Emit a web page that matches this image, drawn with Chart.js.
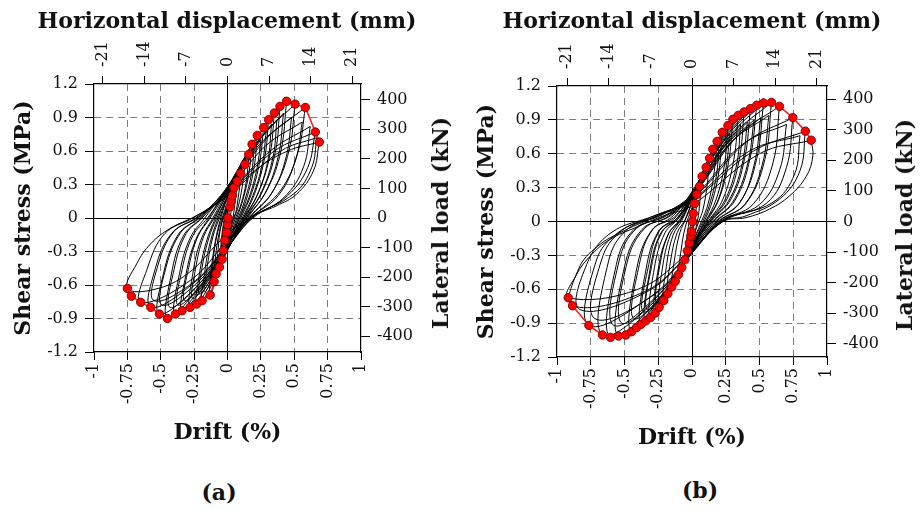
<!DOCTYPE html>
<html>
<head>
<meta charset="utf-8">
<script src="https://cdn.jsdelivr.net/npm/chart.js@4"></script>
<style>
  body { margin: 0; background: #fff; width: 920px; height: 510px; position: relative; overflow: hidden; font-family: "DejaVu Serif", serif; }
  canvas { position: absolute; }
  .lbl { position: absolute; font-weight: bold; white-space: nowrap; color: #111; transform: translate(-50%, -50%); }
  .rot { transform: translate(-50%, -50%) rotate(-90deg); }
</style>
</head>
<body>
<canvas id="chartA" width="460" height="460" style="left:0;top:0"></canvas>
<canvas id="chartB" width="456" height="465" style="left:463px;top:0"></canvas>
<div class="lbl" style="left:227px;top:20px;font-size:22px">Horizontal displacement (mm)</div>
<div class="lbl" style="left:692px;top:20px;font-size:22px">Horizontal displacement (mm)</div>
<div class="lbl rot" style="left:440px;top:223px;font-size:22px">Lateral load (kN)</div>
<div class="lbl rot" style="left:904px;top:225px;font-size:22px">Lateral load (kN)</div>
<div class="lbl" style="left:219px;top:492px;font-size:22px">(a)</div>
<div class="lbl" style="left:700px;top:490px;font-size:22px">(b)</div>
<script>
// tick values
const driftTicks = [-1, -0.75, -0.5, -0.25, 0, 0.25, 0.5, 0.75, 1];
const stressTicks = [-1.2, -0.9, -0.6, -0.3, 0, 0.3, 0.6, 0.9, 1.2];
const dispTicks = [-21, -14, -7, 0, 7, 14, 21];
const loadTicks = [-400, -300, -200, -100, 0, 100, 200, 300, 400];

// secondary axis limits (mm at 1 % drift, kN at 1.2 MPa)
const dispLimitA = 22.5, dispLimitB = 22.7;
const loadLimitA = 453, loadLimitB = 443;

// envelope points [drift %, stress MPa]
const envelopeA = [
  [-0.75, -0.63], [-0.72, -0.70], [-0.65, -0.755], [-0.575, -0.80], [-0.51, -0.86], [-0.45, -0.90],
  [-0.39, -0.86], [-0.34, -0.83], [-0.28, -0.80], [-0.23, -0.77], [-0.19, -0.74], [-0.13, -0.69],
  [-0.10, -0.57], [-0.085, -0.50], [-0.06, -0.44], [-0.04, -0.37], [-0.03, -0.29], [-0.02, -0.20],
  [-0.006, -0.13], [0.0, -0.06], [0.004, 0.0], [0.019, 0.10], [0.026, 0.15], [0.036, 0.20],
  [0.049, 0.27], [0.074, 0.33], [0.099, 0.40], [0.131, 0.48], [0.159, 0.57], [0.184, 0.66],
  [0.223, 0.74], [0.271, 0.81], [0.308, 0.88], [0.351, 0.94], [0.393, 1.0], [0.443, 1.045],
  [0.506, 1.02], [0.583, 0.99], [0.658, 0.77], [0.688, 0.68]
];
const envelopeB = [
  [-0.917, -0.675], [-0.885, -0.746], [-0.764, -0.92], [-0.663, -1.005], [-0.604, -1.026], [-0.544, -1.014],
  [-0.49, -1.005], [-0.448, -0.976], [-0.411, -0.94], [-0.376, -0.91], [-0.342, -0.88], [-0.307, -0.85],
  [-0.273, -0.81], [-0.243, -0.76], [-0.209, -0.70], [-0.179, -0.64], [-0.15, -0.58], [-0.124, -0.53],
  [-0.1, -0.47], [-0.076, -0.41], [-0.053, -0.34], [-0.035, -0.26], [-0.02, -0.19], [-0.009, -0.13],
  [-0.004, -0.09], [0.004, 0.0], [0.009, 0.07], [0.019, 0.16], [0.036, 0.24], [0.056, 0.31],
  [0.075, 0.40], [0.105, 0.48], [0.13, 0.56], [0.154, 0.64], [0.186, 0.71], [0.224, 0.79],
  [0.266, 0.85], [0.303, 0.905], [0.342, 0.94], [0.386, 0.97], [0.433, 1.0], [0.48, 1.03],
  [0.53, 1.05], [0.589, 1.055], [0.648, 1.02], [0.747, 0.92], [0.84, 0.80], [0.883, 0.72]
];

// hysteresis cycles
const loopsA = [
  [[0.036, 0.2], [0.03, 0.1], [0.02, 0], [0, -0.12], [-0.02, -0.2], [-0.015, -0.1], [-0.005, 0], [0.015, 0.12], [0.036, 0.2]],
  [[0.074, 0.33], [0.06, 0.17], [0.04, 0], [0, -0.2], [-0.04, -0.37], [-0.03, -0.2], [-0.01, 0], [0.03, 0.18], [0.074, 0.33]],
  [[0.1, 0.36], [0.08, 0.18], [0.06, 0.04], [0.04, 0], [0, -0.16], [-0.05, -0.38], [-0.04, -0.2], [-0.02, 0], [0.02, 0.16], [0.1, 0.36]],
  [[0.131, 0.48], [0.11, 0.28], [0.08, 0.1], [0.05, 0], [0, -0.18], [-0.06, -0.44], [-0.05, -0.25], [-0.03, -0.05], [0, 0.1], [0.06, 0.3], [0.131, 0.48]],
  [[0.16, 0.56], [0.14, 0.32], [0.1, 0.12], [0.06, 0], [0, -0.2], [-0.08, -0.5], [-0.07, -0.28], [-0.05, -0.08], [-0.01, 0.06], [0.06, 0.3], [0.16, 0.56]],
  [[0.184, 0.66], [0.16, 0.4], [0.12, 0.18], [0.07, 0], [0, -0.22], [-0.06, -0.42], [-0.1, -0.57], [-0.09, -0.35], [-0.06, -0.12], [-0.02, 0.05], [0.05, 0.3], [0.12, 0.5], [0.184, 0.66]],
  [[0.223, 0.74], [0.2, 0.46], [0.15, 0.2], [0.09, 0], [0.02, -0.2], [-0.06, -0.45], [-0.13, -0.69], [-0.12, -0.45], [-0.09, -0.2], [-0.05, 0], [0.02, 0.25], [0.12, 0.52], [0.223, 0.74]],
  [[0.2, 0.64], [0.18, 0.4], [0.13, 0.16], [0.08, 0], [0.01, -0.2], [-0.06, -0.42], [-0.12, -0.6], [-0.11, -0.4], [-0.08, -0.16], [-0.04, 0], [0.03, 0.24], [0.11, 0.46], [0.2, 0.64]],
  [[0.25, 0.7], [0.22, 0.44], [0.16, 0.18], [0.09, 0], [0.01, -0.2], [-0.08, -0.46], [-0.17, -0.66], [-0.15, -0.42], [-0.11, -0.17], [-0.06, 0], [0.02, 0.24], [0.13, 0.5], [0.25, 0.7]],
  [[0.271, 0.81], [0.24, 0.5], [0.18, 0.22], [0.1, 0], [0.02, -0.22], [-0.08, -0.5], [-0.19, -0.74], [-0.17, -0.48], [-0.13, -0.22], [-0.07, 0], [0.02, 0.25], [0.14, 0.56], [0.271, 0.81]],
  [[0.308, 0.88], [0.28, 0.55], [0.21, 0.24], [0.12, 0], [0.03, -0.22], [-0.1, -0.52], [-0.23, -0.77], [-0.21, -0.5], [-0.16, -0.22], [-0.09, 0], [0.02, 0.27], [0.16, 0.6], [0.308, 0.88]],
  [[0.29, 0.78], [0.26, 0.48], [0.19, 0.2], [0.11, 0], [0.02, -0.2], [-0.09, -0.48], [-0.21, -0.68], [-0.19, -0.44], [-0.14, -0.18], [-0.08, 0], [0.02, 0.24], [0.15, 0.54], [0.29, 0.78]],
  [[0.33, 0.84], [0.3, 0.5], [0.22, 0.2], [0.12, 0], [0.02, -0.2], [-0.11, -0.5], [-0.26, -0.72], [-0.24, -0.46], [-0.18, -0.17], [-0.1, 0], [0.02, 0.26], [0.17, 0.58], [0.33, 0.84]],
  [[0.351, 0.94], [0.32, 0.58], [0.24, 0.25], [0.13, 0], [0.03, -0.22], [-0.12, -0.54], [-0.28, -0.8], [-0.26, -0.5], [-0.2, -0.2], [-0.11, 0], [0.02, 0.28], [0.18, 0.64], [0.351, 0.94]],
  [[0.393, 1.0], [0.36, 0.6], [0.27, 0.26], [0.14, 0], [0.03, -0.22], [-0.15, -0.56], [-0.34, -0.83], [-0.31, -0.5], [-0.24, -0.2], [-0.14, 0], [0, 0.27], [0.2, 0.68], [0.393, 1.0]],
  [[0.37, 0.88], [0.34, 0.54], [0.25, 0.22], [0.13, 0], [0.02, -0.2], [-0.14, -0.52], [-0.32, -0.74], [-0.29, -0.44], [-0.22, -0.16], [-0.13, 0], [0, 0.25], [0.19, 0.62], [0.37, 0.88]],
  [[0.42, 0.94], [0.38, 0.55], [0.28, 0.22], [0.14, 0], [0.02, -0.2], [-0.16, -0.54], [-0.37, -0.78], [-0.34, -0.46], [-0.26, -0.16], [-0.15, 0], [0, 0.26], [0.21, 0.66], [0.42, 0.94]],
  [[0.443, 1.045], [0.4, 0.6], [0.3, 0.26], [0.15, 0], [0.03, -0.22], [-0.17, -0.58], [-0.39, -0.86], [-0.36, -0.5], [-0.28, -0.18], [-0.17, 0], [0, 0.28], [0.22, 0.72], [0.443, 1.045]],
  [[0.506, 1.02], [0.46, 0.6], [0.34, 0.24], [0.16, 0], [0.03, -0.22], [-0.2, -0.6], [-0.45, -0.9], [-0.42, -0.5], [-0.33, -0.16], [-0.2, 0], [0, 0.28], [0.25, 0.72], [0.506, 1.02]],
  [[0.48, 0.9], [0.44, 0.55], [0.33, 0.22], [0.16, 0], [0.02, -0.2], [-0.19, -0.56], [-0.43, -0.8], [-0.4, -0.46], [-0.31, -0.14], [-0.19, 0], [0, 0.26], [0.24, 0.66], [0.48, 0.9]],
  [[0.583, 0.99], [0.53, 0.6], [0.4, 0.25], [0.18, 0], [0.03, -0.22], [-0.22, -0.6], [-0.51, -0.86], [-0.48, -0.5], [-0.37, -0.15], [-0.22, 0], [0, 0.26], [0.3, 0.72], [0.583, 0.99]],
  [[0.56, 0.86], [0.51, 0.52], [0.38, 0.2], [0.17, 0], [0.02, -0.2], [-0.21, -0.56], [-0.49, -0.78], [-0.46, -0.44], [-0.35, -0.13], [-0.21, 0], [0, 0.24], [0.28, 0.64], [0.56, 0.86]],
  [[0.62, 0.82], [0.57, 0.46], [0.42, 0.18], [0.18, 0], [0.02, -0.2], [-0.24, -0.56], [-0.55, -0.74], [-0.52, -0.42], [-0.4, -0.12], [-0.23, 0], [0, 0.22], [0.32, 0.6], [0.62, 0.82]],
  [[0.658, 0.77], [0.6, 0.45], [0.45, 0.2], [0.19, 0], [0.02, -0.22], [-0.25, -0.58], [-0.575, -0.8], [-0.54, -0.45], [-0.42, -0.14], [-0.24, 0], [0, 0.22], [0.35, 0.6], [0.658, 0.77]],
  [[0.67, 0.72], [0.63, 0.45], [0.5, 0.22], [0.17, 0], [0, -0.2], [-0.28, -0.56], [-0.65, -0.755], [-0.6, -0.45], [-0.47, -0.14], [-0.26, 0], [0, 0.2], [0.4, 0.6], [0.67, 0.72]],
  [[0.688, 0.68], [0.643, 0.42], [0.518, 0.215], [0.368, 0.11], [0.156, 0], [-0.05, -0.2], [-0.3, -0.5], [-0.55, -0.64], [-0.75, -0.63], [-0.68, -0.41], [-0.575, -0.23], [-0.425, -0.09], [-0.25, 0.01], [-0.05, 0.15], [0.2, 0.42], [0.45, 0.6], [0.688, 0.68]]
];
const loopsB = [
  [[0.036, 0.24], [0.03, 0.1], [0.02, 0], [0, -0.1], [-0.02, -0.19], [-0.015, -0.08], [-0.005, 0.03], [0.015, 0.14], [0.036, 0.24]],
  [[0.075, 0.4], [0.06, 0.2], [0.04, 0], [0, -0.17], [-0.053, -0.34], [-0.04, -0.16], [-0.02, 0], [0.02, 0.2], [0.075, 0.4]],
  [[0.13, 0.56], [0.11, 0.3], [0.08, 0.1], [0.05, 0], [-0.01, -0.2], [-0.1, -0.47], [-0.08, -0.25], [-0.05, -0.05], [0, 0.12], [0.06, 0.34], [0.13, 0.56]],
  [[0.186, 0.71], [0.16, 0.4], [0.12, 0.16], [0.07, 0], [-0.01, -0.22], [-0.08, -0.42], [-0.15, -0.58], [-0.13, -0.34], [-0.09, -0.1], [-0.04, 0.04], [0.04, 0.3], [0.11, 0.52], [0.186, 0.71]],
  [[0.2, 0.68], [0.18, 0.4], [0.13, 0.15], [0.08, 0], [0, -0.2], [-0.09, -0.44], [-0.18, -0.62], [-0.16, -0.36], [-0.11, -0.1], [-0.05, 0.02], [0.03, 0.28], [0.11, 0.5], [0.2, 0.68]],
  [[0.224, 0.79], [0.2, 0.45], [0.15, 0.18], [0.09, 0], [0, -0.22], [-0.1, -0.48], [-0.209, -0.7], [-0.19, -0.4], [-0.14, -0.12], [-0.07, 0.02], [0.03, 0.3], [0.13, 0.58], [0.224, 0.79]],
  [[0.266, 0.85], [0.24, 0.5], [0.18, 0.2], [0.1, 0], [0, -0.22], [-0.11, -0.5], [-0.243, -0.76], [-0.22, -0.42], [-0.16, -0.12], [-0.08, 0.02], [0.03, 0.3], [0.15, 0.62], [0.266, 0.85]],
  [[0.28, 0.78], [0.25, 0.46], [0.19, 0.18], [0.1, 0], [0, -0.21], [-0.11, -0.48], [-0.26, -0.72], [-0.24, -0.4], [-0.17, -0.1], [-0.08, 0.02], [0.03, 0.28], [0.16, 0.58], [0.28, 0.78]],
  [[0.303, 0.905], [0.27, 0.52], [0.2, 0.2], [0.11, 0], [0, -0.23], [-0.12, -0.52], [-0.273, -0.81], [-0.25, -0.42], [-0.18, -0.12], [-0.09, 0.02], [0.03, 0.3], [0.17, 0.66], [0.303, 0.905]],
  [[0.342, 0.94], [0.31, 0.55], [0.23, 0.2], [0.12, 0], [0, -0.23], [-0.13, -0.54], [-0.307, -0.85], [-0.28, -0.42], [-0.2, -0.1], [-0.1, 0.03], [0.03, 0.3], [0.19, 0.68], [0.342, 0.94]],
  [[0.36, 0.86], [0.33, 0.5], [0.24, 0.18], [0.12, 0], [0, -0.22], [-0.13, -0.52], [-0.33, -0.78], [-0.3, -0.4], [-0.22, -0.09], [-0.1, 0.03], [0.03, 0.28], [0.2, 0.62], [0.36, 0.86]],
  [[0.386, 0.97], [0.35, 0.55], [0.26, 0.2], [0.13, 0], [0, -0.24], [-0.14, -0.56], [-0.342, -0.88], [-0.31, -0.42], [-0.23, -0.1], [-0.11, 0.03], [0.03, 0.3], [0.21, 0.7], [0.386, 0.97]],
  [[0.433, 1.0], [0.39, 0.56], [0.29, 0.2], [0.14, 0], [0, -0.24], [-0.15, -0.58], [-0.376, -0.91], [-0.34, -0.42], [-0.25, -0.09], [-0.12, 0.04], [0.02, 0.3], [0.23, 0.72], [0.433, 1.0]],
  [[0.41, 0.88], [0.37, 0.5], [0.27, 0.18], [0.13, 0], [0, -0.22], [-0.14, -0.52], [-0.36, -0.8], [-0.32, -0.38], [-0.24, -0.08], [-0.11, 0.03], [0.02, 0.27], [0.22, 0.64], [0.41, 0.88]],
  [[0.46, 0.9], [0.41, 0.5], [0.3, 0.17], [0.15, 0], [0, -0.23], [-0.16, -0.56], [-0.43, -0.86], [-0.39, -0.38], [-0.29, -0.07], [-0.13, 0.04], [0.02, 0.27], [0.24, 0.66], [0.46, 0.9]],
  [[0.48, 1.03], [0.43, 0.56], [0.32, 0.19], [0.16, 0], [0, -0.25], [-0.17, -0.6], [-0.448, -0.976], [-0.41, -0.42], [-0.3, -0.08], [-0.14, 0.05], [0.02, 0.3], [0.25, 0.74], [0.48, 1.03]],
  [[0.53, 1.05], [0.48, 0.56], [0.36, 0.18], [0.18, 0], [0, -0.26], [-0.2, -0.64], [-0.544, -1.014], [-0.5, -0.4], [-0.37, -0.07], [-0.17, 0.05], [0.02, 0.28], [0.28, 0.76], [0.53, 1.05]],
  [[0.51, 0.92], [0.46, 0.5], [0.35, 0.16], [0.17, 0], [0, -0.24], [-0.19, -0.58], [-0.52, -0.9], [-0.48, -0.36], [-0.35, -0.06], [-0.16, 0.05], [0.02, 0.26], [0.27, 0.68], [0.51, 0.92]],
  [[0.57, 0.94], [0.52, 0.5], [0.39, 0.15], [0.19, 0], [0, -0.25], [-0.21, -0.6], [-0.58, -0.92], [-0.54, -0.35], [-0.41, -0.06], [-0.19, 0.05], [0.02, 0.25], [0.29, 0.7], [0.57, 0.94]],
  [[0.589, 1.055], [0.54, 0.55], [0.4, 0.16], [0.2, 0], [0, -0.27], [-0.22, -0.66], [-0.604, -1.026], [-0.56, -0.38], [-0.43, -0.07], [-0.2, 0.05], [0.02, 0.27], [0.3, 0.76], [0.589, 1.055]],
  [[0.648, 1.02], [0.6, 0.52], [0.45, 0.15], [0.21, 0], [0, -0.28], [-0.25, -0.68], [-0.663, -1.005], [-0.62, -0.36], [-0.48, -0.07], [-0.22, 0.06], [0.02, 0.26], [0.34, 0.76], [0.648, 1.02]],
  [[0.7, 0.86], [0.65, 0.46], [0.5, 0.15], [0.21, 0], [0, -0.27], [-0.27, -0.64], [-0.72, -0.86], [-0.67, -0.34], [-0.52, -0.08], [-0.26, 0.05], [0.01, 0.22], [0.37, 0.68], [0.7, 0.86]],
  [[0.747, 0.92], [0.7, 0.48], [0.55, 0.16], [0.22, 0], [0, -0.28], [-0.3, -0.66], [-0.764, -0.92], [-0.71, -0.35], [-0.55, -0.1], [-0.3, 0.04], [0, 0.2], [0.4, 0.7], [0.747, 0.92]],
  [[0.8, 0.76], [0.76, 0.42], [0.6, 0.17], [0.22, 0], [0, -0.26], [-0.33, -0.62], [-0.83, -0.78], [-0.78, -0.38], [-0.6, -0.1], [-0.28, 0.05], [0, 0.19], [0.42, 0.62], [0.8, 0.76]],
  [[0.84, 0.8], [0.8, 0.45], [0.65, 0.2], [0.4, 0.05], [0.23, 0], [0, -0.26], [-0.35, -0.62], [-0.885, -0.746], [-0.84, -0.42], [-0.7, -0.22], [-0.5, -0.08], [-0.25, 0.05], [0, 0.18], [0.45, 0.62], [0.84, 0.8]],
  [[0.883, 0.72], [0.895, 0.58], [0.846, 0.4], [0.722, 0.226], [0.574, 0.11], [0.4, 0.034], [0.228, 0], [0, -0.25], [-0.4, -0.6], [-0.917, -0.675], [-0.855, -0.47], [-0.757, -0.31], [-0.61, -0.16], [-0.41, -0.05], [-0.19, 0.06], [-0.016, 0.13], [0.5, 0.6], [0.883, 0.72]]
];

Chart.defaults.font.family = '"DejaVu Serif", serif';
Chart.defaults.color = '#111';

const tickFont = { size: 16 };
const titleFont = { size: 22, weight: 'bold' };
const fmt = v => String(v);

function useTicks(values) {
  return s => { s.ticks = values.map(v => ({ value: v })); };
}
function gridColor(edges) {
  return c => {
    const v = c.tick ? c.tick.value : null;
    if (v === 0) return '#000';
    if (edges.includes(v)) return 'rgba(0,0,0,0)';
    return '#7d7d7d';
  };
}
const gridDash = c => (c.tick && c.tick.value === 0 ? [] : [7, 5]);

function drawPanel(id, envelope, loops, dispLimit, loadLimit, box) {
  const datasets = [{
    data: envelope.map(p => ({ x: p[0], y: p[1] })),
    borderColor: '#ff1a1a',
    borderWidth: 1.5,
    pointRadius: 4.2,
    pointBackgroundColor: '#ff0000',
    pointBorderColor: '#8b0000',
    pointBorderWidth: 1,
    tension: 0,
    order: 0
  }].concat(loops.map(l => ({
    data: l.map(p => ({ x: p[0], y: p[1] })),
    borderColor: '#000',
    borderWidth: 1,
    pointRadius: 0,
    tension: 0.4,
    order: 1
  })));

  return new Chart(document.getElementById(id), {
    type: 'line',
    data: { datasets },
    options: {
      responsive: false,
      animation: false,
      devicePixelRatio: 1,
      events: [],
      layout: { padding: 0 },
      plugins: { legend: { display: false }, tooltip: { enabled: false } },
      scales: {
        x: {
          type: 'linear', position: 'bottom', min: -1, max: 1,
          afterBuildTicks: useTicks(driftTicks),
          afterFit: s => { s.height = box.bottom; },
          ticks: { autoSkip: false, minRotation: 90, maxRotation: 90, padding: 3, font: tickFont, callback: fmt },
          grid: { color: gridColor([-1, 1]), lineWidth: 1, tickColor: '#000', tickLength: 8, tickWidth: 1, tickBorderDash: [] },
          border: { color: '#000', width: 1.2, dash: gridDash },
          title: { display: true, text: 'Drift (%)', font: titleFont, padding: { top: 0, bottom: 14 } }
        },
        x2: {
          type: 'linear', position: 'top', min: -dispLimit, max: dispLimit,
          afterBuildTicks: useTicks(dispTicks),
          afterFit: s => { s.height = box.top; },
          ticks: { autoSkip: false, minRotation: 90, maxRotation: 90, padding: 9, labelOffset: 19.2, font: tickFont, callback: fmt },
          grid: { drawOnChartArea: false, tickColor: '#000', tickLength: 8, tickWidth: 1 },
          border: { color: '#000', width: 1.2 }
        },
        y: {
          type: 'linear', position: 'left', min: -1.2, max: 1.2,
          afterBuildTicks: useTicks(stressTicks),
          afterFit: s => { s.width = box.left; },
          ticks: { padding: 7, font: tickFont, callback: fmt },
          grid: { color: gridColor([-1.2, 1.2]), lineWidth: 1, tickColor: '#000', tickLength: 9, tickWidth: 1, tickBorderDash: [] },
          border: { color: '#000', width: 1.2, dash: gridDash },
          title: { display: true, text: 'Shear stress (MPa)', font: titleFont, padding: { top: 11, bottom: 0 } }
        },
        y2: {
          type: 'linear', position: 'right', min: -loadLimit, max: loadLimit,
          afterBuildTicks: useTicks(loadTicks),
          afterFit: s => { s.width = box.right; },
          ticks: { padding: 7, font: tickFont, callback: fmt },
          grid: { drawOnChartArea: false, tickColor: '#000', tickLength: 9, tickWidth: 1 },
          border: { color: '#000', width: 1.2 }
        }
      }
    }
  });
}

drawPanel('chartA', envelopeA, loopsA, dispLimitA, loadLimitA, { left: 94, right: 99, top: 84, bottom: 108 });
drawPanel('chartB', envelopeB, loopsB, dispLimitB, loadLimitB, { left: 94, right: 92, top: 86, bottom: 108 });
</script>
</body>
</html>
